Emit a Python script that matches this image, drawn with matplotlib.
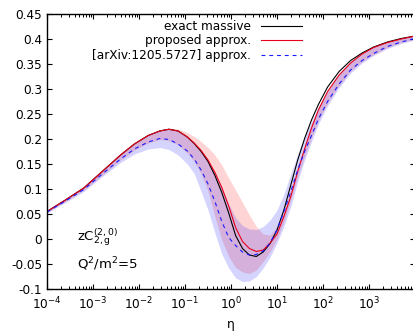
#zC2g coefficient vs eta: exact, proposed approx, old approx with bands
import numpy as np
import matplotlib
matplotlib.use("Agg")
import matplotlib.pyplot as plt
from matplotlib.ticker import LogLocator, NullFormatter

plt.rcParams['font.family'] = 'DejaVu Sans'
plt.rcParams['mathtext.default'] = 'regular'

# log10(eta) grid
log_eta = [-4.0, -3.6, -3.2, -2.8, -2.4, -2.1, -1.8, -1.55, -1.35, -1.15, -0.95, -0.8,
           -0.65, -0.5, -0.35, -0.2, -0.05, 0.1, 0.25, 0.4, 0.55, 0.7, 0.85, 1.0, 1.15,
           1.3, 1.45, 1.6, 1.75, 1.9, 2.1, 2.35, 2.6, 2.85, 3.1, 3.4, 3.7, 4.0]

exact = [0.055, 0.078, 0.102, 0.135, 0.168, 0.190, 0.207, 0.216, 0.2195, 0.216, 0.204, 0.191,
         0.175, 0.155, 0.127, 0.093, 0.052, 0.007, -0.019, -0.032, -0.035, -0.026, -0.009, 0.018, 0.058,
         0.108, 0.158, 0.201, 0.238, 0.269, 0.304, 0.335, 0.357, 0.372, 0.384, 0.394, 0.401, 0.406]

proposed = [0.055, 0.078, 0.102, 0.135, 0.168, 0.190, 0.207, 0.216, 0.2195, 0.216, 0.204, 0.192,
            0.177, 0.158, 0.133, 0.103, 0.066, 0.023, -0.005, -0.019, -0.025, -0.022, -0.008, 0.010, 0.045,
            0.085, 0.135, 0.180, 0.222, 0.258, 0.295, 0.328, 0.352, 0.370, 0.383, 0.393, 0.400, 0.406]
prop_lo = [0.053, 0.075, 0.098, 0.128, 0.158, 0.178, 0.192, 0.199, 0.197, 0.188, 0.172, 0.155,
           0.130, 0.096, 0.045, -0.002, -0.035, -0.057, -0.066, -0.069, -0.062, -0.045, -0.025, 0.000, 0.035,
           0.078, 0.125, 0.166, 0.203, 0.237, 0.272, 0.307, 0.336, 0.355, 0.369, 0.383, 0.393, 0.400]
prop_hi = [0.056, 0.079, 0.103, 0.136, 0.169, 0.191, 0.209, 0.218, 0.222, 0.220, 0.213, 0.205,
           0.195, 0.183, 0.168, 0.148, 0.122, 0.098, 0.073, 0.048, 0.025, 0.010, 0.008, 0.025, 0.060,
           0.100, 0.145, 0.188, 0.228, 0.262, 0.297, 0.330, 0.355, 0.372, 0.385, 0.395, 0.402, 0.408]

old = [0.054, 0.076, 0.099, 0.130, 0.160, 0.180, 0.194, 0.201, 0.199, 0.190, 0.176, 0.160,
       0.138, 0.110, 0.075, 0.035, 0.003, -0.013, -0.026, -0.032, -0.031, -0.024, -0.008, 0.018, 0.055,
       0.095, 0.138, 0.175, 0.207, 0.240, 0.275, 0.310, 0.338, 0.357, 0.371, 0.385, 0.394, 0.401]
old_lo = [0.052, 0.073, 0.095, 0.125, 0.153, 0.170, 0.180, 0.183, 0.179, 0.168, 0.150, 0.131,
          0.095, 0.058, 0.012, -0.030, -0.058, -0.078, -0.085, -0.084, -0.075, -0.058, -0.036, -0.008, 0.025,
          0.065, 0.115, 0.158, 0.195, 0.230, 0.267, 0.303, 0.332, 0.352, 0.367, 0.381, 0.391, 0.398]
old_hi = [0.056, 0.079, 0.103, 0.136, 0.169, 0.191, 0.208, 0.217, 0.220, 0.216, 0.204, 0.192,
          0.177, 0.158, 0.133, 0.104, 0.070, 0.042, 0.027, 0.020, 0.019, 0.025, 0.038, 0.058, 0.090,
          0.130, 0.170, 0.205, 0.235, 0.265, 0.297, 0.330, 0.355, 0.372, 0.385, 0.395, 0.402, 0.408]

xtick_pow = [-4, -3, -2, -1, 0, 1, 2, 3, 4]
ytick_vals = [-0.1, -0.05, 0, 0.05, 0.1, 0.15, 0.2, 0.25, 0.3, 0.35, 0.4, 0.45]
ytick_labels = ['-0.1', '-0.05', '0', '0.05', '0.1', '0.15', '0.2', '0.25',
                '0.3', '0.35', '0.4', '0.45']

eta = 10 ** np.array(log_eta)

fig = plt.figure(figsize=(4.13, 3.33), dpi=100)
ax = fig.add_axes([47/413, 44/333, 368/413, 275/333])

ax.fill_between(eta, prop_lo, prop_hi, color='red', alpha=0.17, lw=0)
ax.fill_between(eta, old_lo, old_hi, color='blue', alpha=0.17, lw=0)

ax.plot(eta, exact, color='black', lw=0.8, label='exact massive')
ax.plot(eta, proposed, color='#e8001a', lw=0.8, label='proposed approx.')
ax.plot(eta, old, color='#1a1aff', lw=0.8, dashes=(3.5, 3.5), label='[arXiv:1205.5727] approx.')

ax.set_xscale('log')
ax.set_xlim(1e-4, 1e4)
ax.set_ylim(-0.1, 0.45)
ax.set_xticks([10.0 ** p for p in xtick_pow])
ax.set_xticklabels([r'$10^{%d}$' % p if p < 4 else '' for p in xtick_pow])
ax.xaxis.set_minor_locator(LogLocator(base=10, subs=np.arange(2, 10), numticks=20))
ax.xaxis.set_minor_formatter(NullFormatter())
ax.set_yticks(ytick_vals)
ax.set_yticklabels(ytick_labels)

ax.tick_params(which='both', direction='in', top=True, right=True, labelsize=8.7)
ax.tick_params(which='major', length=3.8, width=0.8)
ax.tick_params(which='minor', length=2.2, width=0.7)
ax.tick_params(axis='x', pad=5)
for s in ax.spines.values():
    s.set_linewidth(1.0)

ax.set_xlabel('η', fontsize=8.7, labelpad=4)

ax.text(0.082, 0.175, r'$zC_{2,g}^{(2,0)}$', transform=ax.transAxes, fontsize=9.5)
ax.text(0.082, 0.075, r'$Q^2/m^2$=5', transform=ax.transAxes, fontsize=9.5)

ax.legend(loc='upper right', bbox_to_anchor=(302/413, 1 - 20/333),
          bbox_transform=fig.transFigure, frameon=False, markerfirst=False,
          fontsize=8.7, handlelength=3.4, handletextpad=0.8, labelspacing=0.12,
          borderpad=0, borderaxespad=0)

fig.savefig('out.png', dpi=100)
